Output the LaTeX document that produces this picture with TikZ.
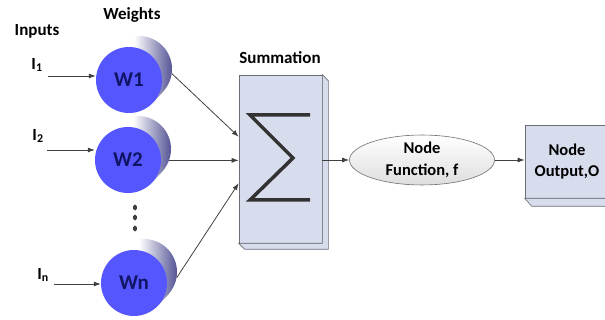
\documentclass[tikz,border=0pt]{standalone}
\usepackage{fontspec}
\setmainfont{Carlito}
\usepackage{tikz}
\usetikzlibrary{arrows.meta,calc,positioning,shapes.geometric}
\usepackage{xcolor}

\definecolor{wblue}{RGB}{86,86,255}
\definecolor{wtext}{RGB}{16,20,100}
\definecolor{wshade}{RGB}{84,84,150}
\definecolor{boxfill}{RGB}{216,221,238}
\definecolor{boxline}{RGB}{110,110,120}
\definecolor{arrgray}{RGB}{64,64,64}
\definecolor{sigmagray}{RGB}{50,50,50}
\definecolor{fnbottom}{RGB}{222,222,222}

\tikzset{
  weight/.style={circle, fill=wblue, minimum size=66pt, inner sep=0pt,
    text=wtext, font=\fontsize{21}{24}\selectfont\bfseries},
  wback/.style={circle, minimum size=66pt, inner sep=0pt},
  cyl/.style={left color=white, right color=wshade, middle color=white},
  arr/.style={draw=arrgray, line width=0.8pt, -{Latex[length=7pt,width=5pt]}},
  lbl/.style={font=\fontsize{17}{20}\selectfont\bfseries},
  txt/.style={font=\fontsize{16.5}{21.5}\selectfont\bfseries, align=center},
  box/.style={draw=boxline, fill=boxfill, line width=0.6pt},
}

\begin{document}
\begin{tikzpicture}[x=1pt,y=-1pt]
  \useasboundingbox (0,0) rectangle (605,320);

  % Titles
  \node[lbl] (tin) at (37,31) {Inputs};
  \node[lbl] (twt) at (132,15) {Weights};
  \node[lbl] (tsum) at (280,58) {Summation};

  % Summation block with depth
  \node[box, minimum width=83pt, minimum height=168pt, inner sep=0pt] (sum) at (280.5,159) {};
  \filldraw[box] (sum.north east) -- ++(6,6) -- ($(sum.south east)+(6,6)$)
    -- ($(sum.south west)+(6,6)$) -- (sum.south west) -- (sum.south east) -- cycle;
  \draw[sigmagray, line width=3.5pt, line join=miter]
    ($(sum)+(29.5,-44)$) -- ($(sum)+(-30.5,-44)$) -- ($(sum)+(12.5,-1)$)
    -- ($(sum)+(-30.5,41)$) -- ($(sum)+(29.5,41)$);

  % Node function and output
  \node[ellipse, draw=boxline, line width=0.6pt, top color=white, bottom color=fnbottom,
    minimum width=145pt, minimum height=48pt, inner sep=0pt, txt] (fn) at (422,160) {Node\\Function, f};
  \node[box, minimum width=84pt, minimum height=73pt, inner sep=0pt, txt] (out) at (567,161.5) {Node\\Output,O};
  \filldraw[box] (out.south west) -- ++(7,8) -- ($(out.south east)+(7,8)$)
    -- (out.south east) -- cycle;

  % Weight cylinders (y axis points down, so page angles are negated)
  \foreach \n/\x/\y/\t in {w1/129/80/W1, w2/128/160/W2, wn/134/283/Wn}{
    \node[wback] (\n-b) at (\x+10,\y-11) {};
    \begin{scope}
      \clip (\x+10,\y-11) circle[radius=33];
      \shade[cyl] (\x-33,\y-44) rectangle (\x+43,\y+33);
    \end{scope}
    \begin{scope}
      \clip ($(\x,\y)+(-138:33)$) -- ($(\x+10,\y-11)+(-138:33)$)
        -- ($(\x+10,\y-11)+(42:33)$) -- ($(\x,\y)+(42:33)$) -- cycle;
      \shade[cyl] (\x-33,\y-44) rectangle (\x+43,\y+33);
    \end{scope}
    \node[weight] (\n) at (\x,\y) {\t};
  }

  % Dots between W2 and Wn
  \foreach \y in {207.5,217.5,228.5}
    \fill[arrgray, rounded corners=1.5pt] (133.2,\y-2.8) rectangle (136.8,\y+2.8);

  % Inputs
  \node[lbl] (l1) at (37,65) {I\textsubscript{1}};
  \node[lbl] (l2) at (38,136) {I\textsubscript{2}};
  \node[lbl] (ln) at (43,275) {I\textsubscript{n}};
  \coordinate (i1) at (48,76);
  \coordinate (i2) at (47,150);
  \coordinate (in) at (54,284);
  \draw[arr] (i1) -- (i1 -| w1.west);
  \draw[arr] (i2) -- (i2 -| w2.west);
  \draw[arr] (in) -- (in -| wn.west);

  % Weights into summation
  \draw[arr] (w1-b.-8) -- (sum.152);
  \draw[arr] (w2-b.-20) -- (w2-b.-20 -| sum.west);
  \draw[arr] (wn-b.-10) -- (sum.210);

  % Summation to output
  \draw[arr] (sum.east |- fn.west) -- (fn.west);
  \draw[arr] (fn.east) -- (fn.east -| out.west);
\end{tikzpicture}
\end{document}
